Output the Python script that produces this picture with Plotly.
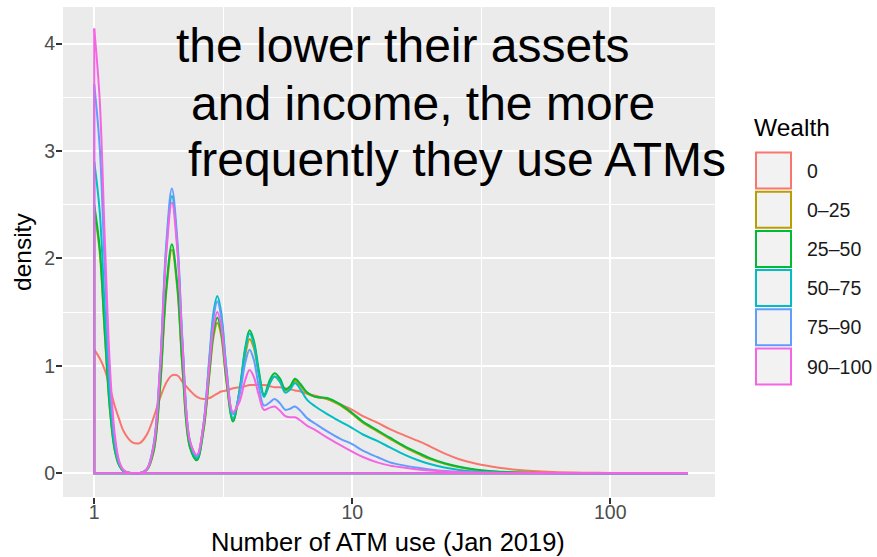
import plotly.graph_objects as go

# ---- data: kernel density of monthly ATM use, by wealth percentile group ----
groups = ["0", "0\u201325", "25\u201350", "50\u201375", "75\u201390", "90\u2013100"]
colors = ["#F8766D", "#B79F00", "#00BA38", "#00BFC4", "#619CFF", "#F564E3"]

atm_uses = [1, 1.05, 1.1, 1.15, 1.2, 1.25, 1.3, 1.4, 1.5, 1.6,
            1.7, 1.8, 1.9, 2.0, 2.1, 2.2, 2.35, 2.5, 2.65, 2.8,
            2.9, 3.0, 3.1, 3.25, 3.45, 3.65, 3.85, 4.0, 4.15, 4.35,
            4.55, 4.8, 5.0, 5.25, 5.5, 5.75, 6.0, 6.3, 6.7, 7.2,
            8, 9, 10, 11, 12.5, 14, 16, 18, 20, 23,
            26, 30, 35, 40, 50, 60, 80, 100, 140, 200]

dens_0 = [1.15, 1.07, 0.96, 0.80, 0.63, 0.50, 0.39, 0.29, 0.28, 0.36,
          0.52, 0.70, 0.84, 0.91, 0.91, 0.85, 0.77, 0.71, 0.69, 0.70,
          0.72, 0.74, 0.76, 0.77, 0.79, 0.80, 0.81, 0.82, 0.82, 0.82,
          0.82, 0.81, 0.80, 0.80, 0.79, 0.78, 0.77, 0.76, 0.74, 0.72,
          0.69, 0.64, 0.59, 0.53, 0.47, 0.41, 0.35, 0.30, 0.25, 0.18,
          0.13, 0.09, 0.06, 0.04, 0.02, 0.01, 0.004, 0.002, 0.001, 0]

dens_0_25 = [2.45, 2.06, 1.27, 0.59, 0.22, 0.07, 0.017, 0, 0, 0.03,
             0.20, 0.79, 1.67, 2.08, 1.71, 0.96, 0.24, 0.13, 0.39, 0.93,
             1.27, 1.40, 1.29, 0.86, 0.49, 0.74, 1.10, 1.25, 1.17, 0.91,
             0.72, 0.84, 0.90, 0.85, 0.77, 0.80, 0.86, 0.81, 0.74, 0.71,
             0.69, 0.63, 0.55, 0.47, 0.39, 0.32, 0.24, 0.18, 0.13, 0.085,
             0.055, 0.03, 0.016, 0.009, 0.003, 0.001, 0, 0, 0, 0]

dens_25_50 = [2.5, 2.1, 1.3, 0.6, 0.22, 0.07, 0.017, 0, 0, 0.03,
              0.21, 0.81, 1.71, 2.13, 1.75, 0.98, 0.24, 0.12, 0.40, 0.96,
              1.31, 1.45, 1.33, 0.88, 0.48, 0.76, 1.17, 1.33, 1.24, 0.95,
              0.73, 0.87, 0.93, 0.88, 0.78, 0.81, 0.88, 0.83, 0.75, 0.71,
              0.70, 0.64, 0.56, 0.48, 0.40, 0.33, 0.25, 0.19, 0.14, 0.09,
              0.06, 0.035, 0.018, 0.01, 0.004, 0.001, 0, 0, 0, 0]

dens_50_75 = [2.9, 2.44, 1.51, 0.70, 0.26, 0.08, 0.02, 0, 0, 0.035,
              0.26, 0.98, 2.07, 2.58, 2.12, 1.19, 0.29, 0.14, 0.45, 1.10,
              1.50, 1.65, 1.51, 0.99, 0.51, 0.75, 1.15, 1.30, 1.21, 0.92,
              0.71, 0.84, 0.90, 0.85, 0.75, 0.78, 0.84, 0.78, 0.68, 0.62,
              0.55, 0.48, 0.42, 0.36, 0.30, 0.24, 0.17, 0.12, 0.085, 0.05,
              0.03, 0.015, 0.008, 0.004, 0.001, 0, 0, 0, 0, 0]

dens_75_90 = [3.62, 3.04, 1.88, 0.87, 0.32, 0.10, 0.025, 0, 0, 0.04,
              0.27, 1.0, 2.12, 2.65, 2.17, 1.22, 0.30, 0.16, 0.45, 1.08,
              1.45, 1.60, 1.47, 0.98, 0.55, 0.72, 1.03, 1.15, 1.06, 0.80,
              0.63, 0.66, 0.69, 0.65, 0.59, 0.60, 0.62, 0.58, 0.51, 0.46,
              0.39, 0.32, 0.27, 0.21, 0.15, 0.10, 0.07, 0.05, 0.035, 0.02,
              0.012, 0.006, 0.003, 0.002, 0, 0, 0, 0, 0, 0]

dens_90_100 = [4.14, 3.48, 2.15, 1.0, 0.37, 0.11, 0.03, 0, 0, 0.035,
               0.25, 0.96, 2.02, 2.52, 2.07, 1.17, 0.30, 0.17, 0.44, 1.02,
               1.37, 1.50, 1.38, 0.93, 0.57, 0.66, 0.87, 0.96, 0.90, 0.72,
               0.59, 0.61, 0.62, 0.58, 0.53, 0.52, 0.52, 0.49, 0.44, 0.40,
               0.33, 0.26, 0.20, 0.15, 0.10, 0.07, 0.05, 0.035, 0.025, 0.015,
               0.01, 0.005, 0.003, 0.001, 0, 0, 0, 0, 0, 0]

densities = [dens_0, dens_0_25, dens_25_50, dens_50_75, dens_75_90, dens_90_100]

x_ticks = [1, 10, 100]
x_tick_labels = ["1", "10", "100"]
y_ticks = [0, 1, 2, 3, 4]

note_lines = ["the lower their assets", "and income, the more", "frequently they use ATMs"]

# ---- figure geometry (pixels) ----
W, H = 877, 557
L, R, T, B = 63, 715, 7, 497
FONT = "Liberation Sans, Arial, Helvetica, sans-serif"


def px_x(p):
    return (p - L) / (R - L)


def px_y(p):
    return (B - p) / (B - T)


fig = go.Figure()

for name, col, dens in zip(groups, colors, densities):
    # density outline
    fig.add_trace(go.Scatter(
        x=atm_uses, y=dens, mode="lines", name=name, legendgroup=name,
        line=dict(color=col, width=2, shape="spline", smoothing=1.0),
        showlegend=False, hoverinfo="skip"))
    # closing edges of the density polygon (left edge + baseline)
    fig.add_trace(go.Scatter(
        x=[atm_uses[0], atm_uses[0], atm_uses[-1]], y=[dens[0], 0, 0],
        mode="lines", legendgroup=name, showlegend=False, hoverinfo="skip",
        line=dict(color=col, width=2)))

axis_common = dict(
    showgrid=True, gridcolor="white", gridwidth=2.2,
    zeroline=False, showline=False, automargin=False,
    ticks="outside", ticklen=6, tickwidth=1.5, tickcolor="#333333",
    tickfont=dict(family=FONT, size=19.5, color="#4D4D4D"),
)

fig.update_xaxes(
    type="log", range=[-0.121, 2.406],
    tickmode="array", tickvals=x_ticks, ticktext=x_tick_labels,
    ticklabelstandoff=-8,
    minor=dict(tickmode="array", tickvals=[10 ** 0.5, 10 ** 1.5, 10 ** 2.5],
               showgrid=True, gridcolor="white", gridwidth=1.1, ticks=""),
    **axis_common)

fig.update_yaxes(
    range=[-0.222, 4.34], tickmode="array", tickvals=y_ticks,
    ticklabelstandoff=-3,
    minor=dict(tickmode="array", tickvals=[0.5, 1.5, 2.5, 3.5],
               showgrid=True, gridcolor="white", gridwidth=1.1, ticks=""),
    **axis_common)

annotations = []
shapes = []

# axis titles
annotations.append(dict(
    text="Number of ATM use (Jan 2019)", xref="paper", yref="paper",
    x=px_x(388), y=px_y(542), xanchor="center", yanchor="middle",
    showarrow=False, font=dict(family=FONT, size=25.5, color="black")))
annotations.append(dict(
    text="density", xref="paper", yref="paper", textangle=-90,
    x=px_x(22), y=px_y(252), xanchor="center", yanchor="middle",
    showarrow=False, font=dict(family=FONT, size=24.5, color="black")))

# text note inside the panel
note_pos = [(174, 46), (189, 103), (186, 160)]
for txt, (xp, yp) in zip(note_lines, note_pos):
    annotations.append(dict(
        text=txt, xref="paper", yref="paper", x=px_x(xp), y=px_y(yp),
        xanchor="left", yanchor="middle", showarrow=False,
        font=dict(family=FONT, size=48, color="black")))

# legend: title, keys and labels
annotations.append(dict(
    text="Wealth", xref="paper", yref="paper", x=px_x(752), y=px_y(127),
    xanchor="left", yanchor="middle", showarrow=False,
    font=dict(family=FONT, size=24.5, color="black")))

key_top0, key_step, key_h = 152.5, 39.2, 36
for i, (name, col) in enumerate(zip(groups, colors)):
    top = key_top0 + i * key_step
    shapes.append(dict(
        type="rect", xref="paper", yref="paper",
        x0=px_x(756), x1=px_x(791), y0=px_y(top + key_h), y1=px_y(top),
        fillcolor="#F2F2F2", line=dict(color=col, width=2)))
    annotations.append(dict(
        text=name, xref="paper", yref="paper", x=px_x(805),
        y=px_y(top + key_h / 2), xanchor="left", yanchor="middle",
        showarrow=False, font=dict(family=FONT, size=19.5, color="#1A1A1A")))

fig.update_layout(
    width=W, height=H,
    margin=dict(l=L, r=W - R, t=T, b=H - B),
    paper_bgcolor="white", plot_bgcolor="#EBEBEB",
    showlegend=False,
    annotations=annotations, shapes=shapes,
    font=dict(family=FONT),
)

fig.write_html("out.html")
